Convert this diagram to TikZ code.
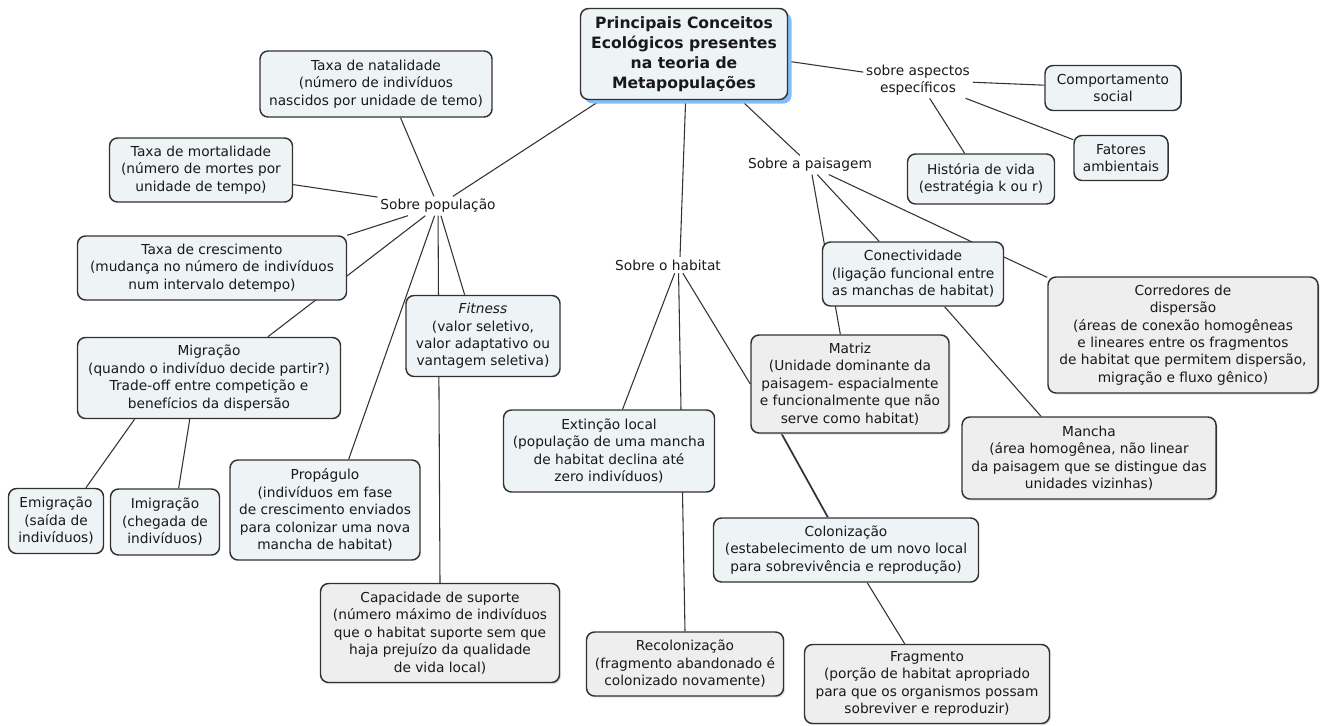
\documentclass[tikz,border=0pt]{standalone}
\usepackage{fontspec}
\setmainfont{DejaVu Sans}
\usetikzlibrary{backgrounds,calc,shadows}
\definecolor{boxblue}{RGB}{238,243,246}
\definecolor{boxgrey}{RGB}{238,238,238}
\definecolor{edgec}{RGB}{50,50,50}
\definecolor{txtc}{RGB}{25,25,25}
\definecolor{shadowblue}{RGB}{130,190,245}
\tikzset{
  x=0.75pt, y=-0.75pt,
  box/.style={draw=edgec, line width=1.1pt, rounded corners=6pt, align=center, inner sep=0pt,
    font=\fontsize{10.3}{13.1}\selectfont, text=txtc},
  bluebox/.style={box, fill=boxblue},
  greybox/.style={box, fill=boxgrey, drop shadow={shadow xshift=1.2pt, shadow yshift=-1.2pt, fill=black!18, opacity=0.6}},
  sz/.style 2 args={minimum width=#1*0.75pt, minimum height=#2*0.75pt},
  lbl/.style={align=center, inner sep=2pt, font=\fontsize{10.3}{13.1}\selectfont, text=txtc},
  conn/.style={draw=edgec, line width=0.8pt},
}
\begin{document}
\begin{tikzpicture}
\useasboundingbox (0,0) rectangle (1327,725);
% root
\node[bluebox, sz={207}{91}, font=\fontsize{11.7}{15}\selectfont\bfseries,
  drop shadow={shadow xshift=3pt, shadow yshift=-3pt, fill=shadowblue, opacity=1}] (root) at (684,54)
  {Principais Conceitos\\Ecológicos presentes\\na teoria de\\Metapopulações};
% labels
\node[lbl] (asp) at (918,80) {sobre aspectos\\específicos};
\node[lbl] (pais) at (810,165) {Sobre a paisagem};
\node[lbl] (pop) at (438,206) {Sobre população};
\node[lbl] (hab) at (668,265) {Sobre o habitat};
% boxes
\node[bluebox, sz={136}{45}] (comp) at (1113,88) {Comportamento\\social};
\node[bluebox, sz={94}{45}] (fat) at (1121,158) {Fatores\\ambientais};
\node[bluebox, sz={147}{50}] (hist) at (981,179) {História de vida\\(estratégia k ou r)};
\node[bluebox, sz={232}{66}] (nat) at (376,84) {Taxa de natalidade\\(número de indivíduos\\nascidos por unidade de temo)};
\node[bluebox, sz={183}{64}] (mort) at (201,170) {Taxa de mortalidade\\(número de mortes por\\unidade de tempo)};
\node[bluebox, sz={269}{64}] (cresc) at (212,268) {Taxa de crescimento\\(mudança no número de indivíduos\\num intervalo detempo)};
\node[bluebox, sz={263}{81}] (migr) at (209,378) {Migração\\(quando o indivíduo decide partir?)\\Trade-off entre competição e\\benefícios da dispersão};
\node[bluebox, sz={154}{81}] (fit) at (483,336) {\textit{Fitness}\\(valor seletivo,\\valor adaptativo ou\\vantagem seletiva)};
\node[bluebox, sz={181}{64}] (conect) at (913,274) {Conectividade\\(ligação funcional entre\\as manchas de habitat)};
\node[greybox, sz={270}{116}] (corr) at (1183,335) {Corredores de\\dispersão\\(áreas de conexão homogêneas\\e lineares entre os fragmentos\\de habitat que permitem dispersão,\\migração e fluxo gênico)};
\node[greybox, sz={198}{98}] (matriz) at (850,384) {Matriz\\(Unidade dominante da\\paisagem- espacialmente\\e funcionalmente que não\\serve como habitat)};
\node[bluebox, sz={211}{82}] (ext) at (609,451) {Extinção local\\(população de uma mancha\\de habitat declina até\\zero indivíduos)};
\node[greybox, sz={254}{82}] (mancha) at (1089,458) {Mancha\\(área homogênea, não linear\\da paisagem que se distingue das\\unidades vizinhas)};
\node[bluebox, sz={95}{65}] (emig) at (56,521) {Emigração\\(saída de\\indivíduos)};
\node[bluebox, sz={109}{66}] (imig) at (165,522) {Imigração\\(chegada de\\indivíduos)};
\node[bluebox, sz={190}{100}] (prop) at (325,510) {Propágulo\\(indivíduos em fase\\de crescimento enviados\\para colonizar uma nova\\mancha de habitat)};
\node[bluebox, sz={265}{64}] (colon) at (846,550) {Colonização\\(estabelecimento de um novo local\\para sobrevivência e reprodução)};
\node[greybox, sz={239}{99}] (cap) at (440,633) {Capacidade de suporte\\(número máximo de indivíduos\\que o habitat suporte sem que\\haja prejuízo da qualidade\\de vida local)};
\node[greybox, sz={197}{64}] (recol) at (685,664) {Recolonização\\(fragmento abandonado é\\colonizado novamente)};
\node[greybox, sz={245}{79}] (frag) at (927,684) {Fragmento\\(porção de habitat apropriado\\para que os organismos possam\\sobreviver e reproduzir)};
% connectors
\begin{pgfonlayer}{background}
\draw[conn] (root.209) -- (pop);
\draw[conn] (root.-88) -- ($(hab.north)+(12,0)$);
\draw[conn] (root.-39) -- (pais);
\draw[conn] (root.-4) -- (asp);
\draw[conn] (asp) -- (comp);
\draw[conn] (asp) -- (fat);
\draw[conn] (asp) -- (hist);
\draw[conn] ($(pais.south)+(2,0)$) -- (matriz.101);
\draw[conn] (pais.-53) -- (conect.136);
\draw[conn] (pais.-27) -- (corr.157);
\draw[conn] (conect.-46) -- (mancha.139);
\draw[conn] (hab.-51) -- (ext.72);
\draw[conn] (hab.-38) -- (recol.north);
\draw[conn] (hab.-29) -- (matriz.180);
\draw[conn, line width=1.3pt] (matriz.-144) -- (colon.119);
\draw[conn] (nat.-54) -- (pop);
\draw[conn] (mort.-9) -- (pop);
\draw[conn] (pop) -- (cresc.north east);
\draw[conn] (pop) -- (migr.35);
\draw[conn] (pop) -- (prop.65);
\draw[conn] (pop) -- (cap.north);
\draw[conn] (pop) -- (fit.114);
\draw[conn] (migr.-151) -- (emig.48);
\draw[conn] (migr.-115) -- (imig.68);
\draw[conn] (colon.-57) -- (frag.119);
\end{pgfonlayer}
\end{tikzpicture}
\end{document}
